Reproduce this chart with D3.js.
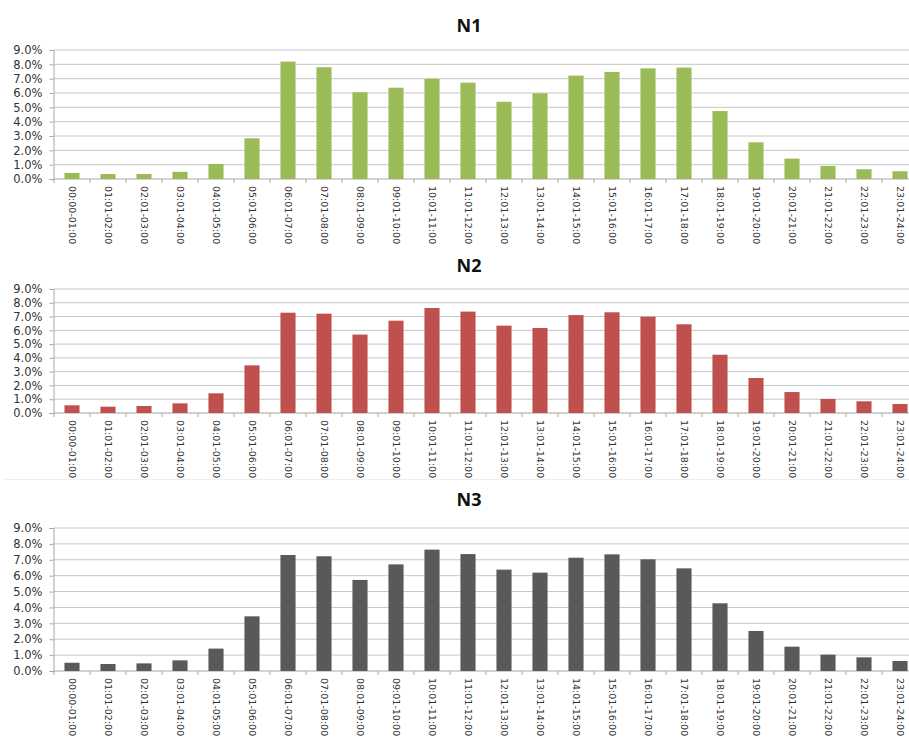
<!DOCTYPE html>
<html>
<head>
<meta charset="utf-8">
<title>N1 N2 N3</title>
<style>
  body { margin: 0; background: #fff; overflow: hidden; }
  .ylab text { font-family: "DejaVu Sans", sans-serif; font-size: 11.5px; fill: #333; }
  .xlab text { font-family: "DejaVu Sans", sans-serif; font-size: 9.5px; fill: #333; }
  .title { font-family: "Open Sans", "DejaVu Sans", sans-serif; font-weight: bold; font-size: 18px; fill: #111; }
</style>
</head>
<body>
<script src="https://cdn.jsdelivr.net/npm/d3@7"></script>
<script>
// hour ranges
var hours = ["00:00-01:00","01:01-02:00","02:01-03:00","03:01-04:00","04:01-05:00","05:01-06:00",
  "06:01-07:00","07:01-08:00","08:01-09:00","09:01-10:00","10:01-11:00","11:01-12:00",
  "12:01-13:00","13:01-14:00","14:01-15:00","15:01-16:00","16:01-17:00","17:01-18:00",
  "18:01-19:00","19:01-20:00","20:01-21:00","21:01-22:00","22:01-23:00","23:01-24:00"];

// shares in percent
var n1 = [0.42,0.35,0.35,0.5,1.05,2.84,8.19,7.8,6.05,6.37,6.98,6.72,
  5.39,5.98,7.21,7.47,7.72,7.77,4.74,2.56,1.42,0.91,0.68,0.54];
var n2 = [0.56,0.46,0.51,0.7,1.43,3.46,7.28,7.21,5.69,6.7,7.62,7.36,
  6.34,6.17,7.11,7.31,6.99,6.44,4.23,2.54,1.52,1.02,0.85,0.65];
var n3 = [0.52,0.44,0.48,0.67,1.41,3.44,7.3,7.22,5.73,6.71,7.64,7.36,
  6.38,6.19,7.13,7.34,7.03,6.46,4.26,2.52,1.53,1.03,0.86,0.63];

var yTicks = [0,1,2,3,4,5,6,7,8,9];

var W = 909, H = 738;
var svg = d3.select("body").append("svg").attr("width", W).attr("height", H);

var x0 = 54, step = 36;
var x = d3.scaleBand().domain(hours).range([x0, x0 + step * hours.length])
  .paddingInner(0.58).paddingOuter(0.29);

function drawChart(name, vals, color, top, bottom, titleY) {
  var y = d3.scaleLinear().domain([0, 9]).range([bottom, top]);
  var g = svg.append("g");

  // gridlines
  g.selectAll("line.grid").data(yTicks).enter().append("line")
    .attr("class", "grid")
    .attr("x1", x0).attr("x2", W)
    .attr("y1", function(d){ return y(d); }).attr("y2", function(d){ return y(d); })
    .attr("stroke", function(d){ return d == 0 ? "#a6a6a6" : "#c6c6c6"; })
    .attr("stroke-width", 1);

  // y axis
  var ya = d3.axisLeft(y).tickValues(yTicks).tickSize(4).tickPadding(7)
    .tickFormat(function(d){ return d.toFixed(1) + "%"; });
  var yg = g.append("g").attr("class", "ylab")
    .attr("transform", "translate(" + (x0 - 0.5) + ",0)").call(ya);
  yg.select(".domain").attr("stroke", "#a6a6a6");
  yg.selectAll(".tick line").attr("stroke", "#a6a6a6");

  // bars
  g.selectAll("rect").data(vals).enter().append("rect")
    .attr("x", function(d,i){ return x(hours[i]); })
    .attr("y", function(d){ return y(d); })
    .attr("width", x.bandwidth())
    .attr("height", function(d){ return bottom - y(d); })
    .attr("fill", color);

  // x ticks between categories
  g.selectAll("line.xt").data(d3.range(hours.length + 1)).enter().append("line")
    .attr("class", "xt")
    .attr("x1", function(i){ return x0 + i * step; }).attr("x2", function(i){ return x0 + i * step; })
    .attr("y1", bottom).attr("y2", bottom + 4)
    .attr("stroke", "#a6a6a6");

  // x labels
  var xl = g.append("g").attr("class", "xlab");
  xl.selectAll("text").data(hours).enter().append("text")
    .attr("transform", function(d){
      return "translate(" + (x(d) + x.bandwidth() / 2) + "," + (bottom + 7) + ") rotate(90)";
    })
    .attr("dy", "0.35em")
    .attr("text-anchor", "start")
    .text(function(d){ return d; });

  g.append("text").attr("class", "title")
    .attr("x", 469).attr("y", titleY)
    .attr("text-anchor", "middle")
    .text(name);
}

drawChart("N1", n1, "#9bbb59", 50, 179, 32);
drawChart("N2", n2, "#c0504d", 289, 413, 272);
drawChart("N3", n3, "#595959", 528, 671, 506);

// faint separator under second chart
svg.append("line").attr("x1", 5).attr("x2", W).attr("y1", 479.5).attr("y2", 479.5)
  .attr("stroke", "#eeeeee");
</script>
</body>
</html>
